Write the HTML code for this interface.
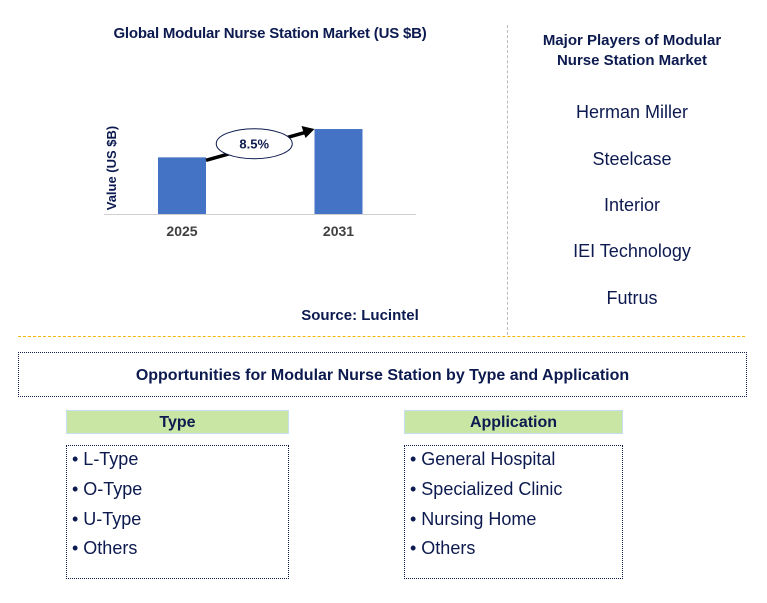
<!DOCTYPE html>
<html><head><meta charset="utf-8"><style>
body{margin:0;width:767px;height:603px;background:#fff;font-family:"Liberation Sans",sans-serif;position:relative;overflow:hidden;color:#0c1a4f}
.a{position:absolute}
.t{font-weight:bold;color:#0c1a4f;text-align:center}
.pl{font-size:18px;color:#0c1a4f;text-align:center;width:250px;left:507px}
.hd{background:#c9e6a4;border:1px solid #c5dff0;font-weight:bold;font-size:16px;text-align:center;line-height:23px;box-sizing:border-box}
.bx{border:1.5px dotted #0c1a4f;box-sizing:border-box}
.li{font-size:18px;left:5px;position:absolute}
</style></head><body>
<div class="a t" style="left:60px;top:25px;width:420px;font-size:15px;letter-spacing:-0.2px">Global Modular Nurse Station Market (US $B)</div>
<svg class="a" style="left:0;top:0" width="507" height="330">
<g id="g"></g>
</svg>
<div class="a t" style="left:260px;top:307px;width:200px;font-size:15px">Source: Lucintel</div>
<div class="a" style="left:507px;top:25px;height:310px;border-left:1px dashed #bbb"></div>
<div class="a t" style="left:507px;top:31px;width:250px;font-size:15px;line-height:20px">Major Players of Modular<br>Nurse Station Market</div>
<div class="a pl" style="top:102px">Herman Miller</div>
<div class="a pl" style="top:149px">Steelcase</div>
<div class="a pl" style="top:195px">Interior</div>
<div class="a pl" style="top:241px">IEI Technology</div>
<div class="a pl" style="top:288px">Futrus</div>
<div class="a" style="left:18px;top:336px;width:727px;border-top:1px dashed #f5b800"></div>
<div class="a bx t" style="left:18px;top:352px;width:729px;height:45px;line-height:45px;font-size:16px">Opportunities for Modular Nurse Station by Type and Application</div>
<div class="a hd" style="left:66px;top:410px;width:223px;height:24px">Type</div>
<div class="a bx" style="left:66px;top:445px;width:223px;height:134px">
<div class="li" style="top:3px">• L-Type</div>
<div class="li" style="top:33px">• O-Type</div>
<div class="li" style="top:63px">• U-Type</div>
<div class="li" style="top:92px">• Others</div>
</div>
<div class="a hd" style="left:404px;top:410px;width:219px;height:24px">Application</div>
<div class="a bx" style="left:404px;top:445px;width:219px;height:134px">
<div class="li" style="top:3px">• General Hospital</div>
<div class="li" style="top:33px">• Specialized Clinic</div>
<div class="li" style="top:63px">• Nursing Home</div>
<div class="li" style="top:92px">• Others</div>
</div>
<script>
const categories=["2025","2031"];
const values=[1.6,2.4];
const cagrLabel="8.5%";
const NS="http://www.w3.org/2000/svg";
const g=document.getElementById('g');
const base=214,pxPer=35.4,x0=104,x1=416,bw=48;
const xc=i=>182+i*156.5;
const y=v=>base-v*pxPer;
function mk(t,a){const e=document.createElementNS(NS,t);for(const k in a)e.setAttribute(k,a[k]);g.appendChild(e);return e;}
const ax=mk('line',{x1:x0,x2:x1,y1:base+0.5,y2:base+0.5,stroke:'#d0d0d0','stroke-width':1});


categories.forEach((c,i)=>{
 const r=mk('rect',{x:xc(i)-bw/2,y:y(values[i]),width:bw,height:base-y(values[i]),fill:'#4472c4'});
 
 
 const t=mk('text',{x:xc(i),y:base+22,'text-anchor':'middle','font-size':14,'font-weight':'bold',fill:'#404040','font-family':'Liberation Sans'});
 t.textContent=c;
 
 
});
const ya=mk('text',{x:0,y:0,transform:'translate(116,168) rotate(-90)','text-anchor':'middle','font-size':13,'font-weight':'bold',fill:'#0c1a4f','font-family':'Liberation Sans'});
ya.textContent='Value (US $B)';


const ax1=xc(0)+bw/2,ay1=y(values[0])+3,ax2=xc(1)-bw/2,ay2=y(values[1]);
const ln=mk('line',{x1:ax1,y1:ay1,x2:ax2-8,y2:ay2+3,stroke:'#000','stroke-width':3.5});


mk('polygon',{points:`${ax2},${ay2} ${ax2-13},${ay2-3} ${ax2-9},${ay2+9}`,fill:'#000'});
const mx=(ax1+ax2)/2-6,my=(ay1+ay2)/2-1;
const el=mk('ellipse',{cx:mx,cy:my,rx:38,ry:15,fill:'#fff',stroke:'#0c1a4f','stroke-width':1});


const ct=mk('text',{x:mx,y:my+5,'text-anchor':'middle','font-size':13,'font-weight':'bold',fill:'#0c1a4f','font-family':'Liberation Sans'});
ct.textContent=cagrLabel;


</script>
</body></html>
